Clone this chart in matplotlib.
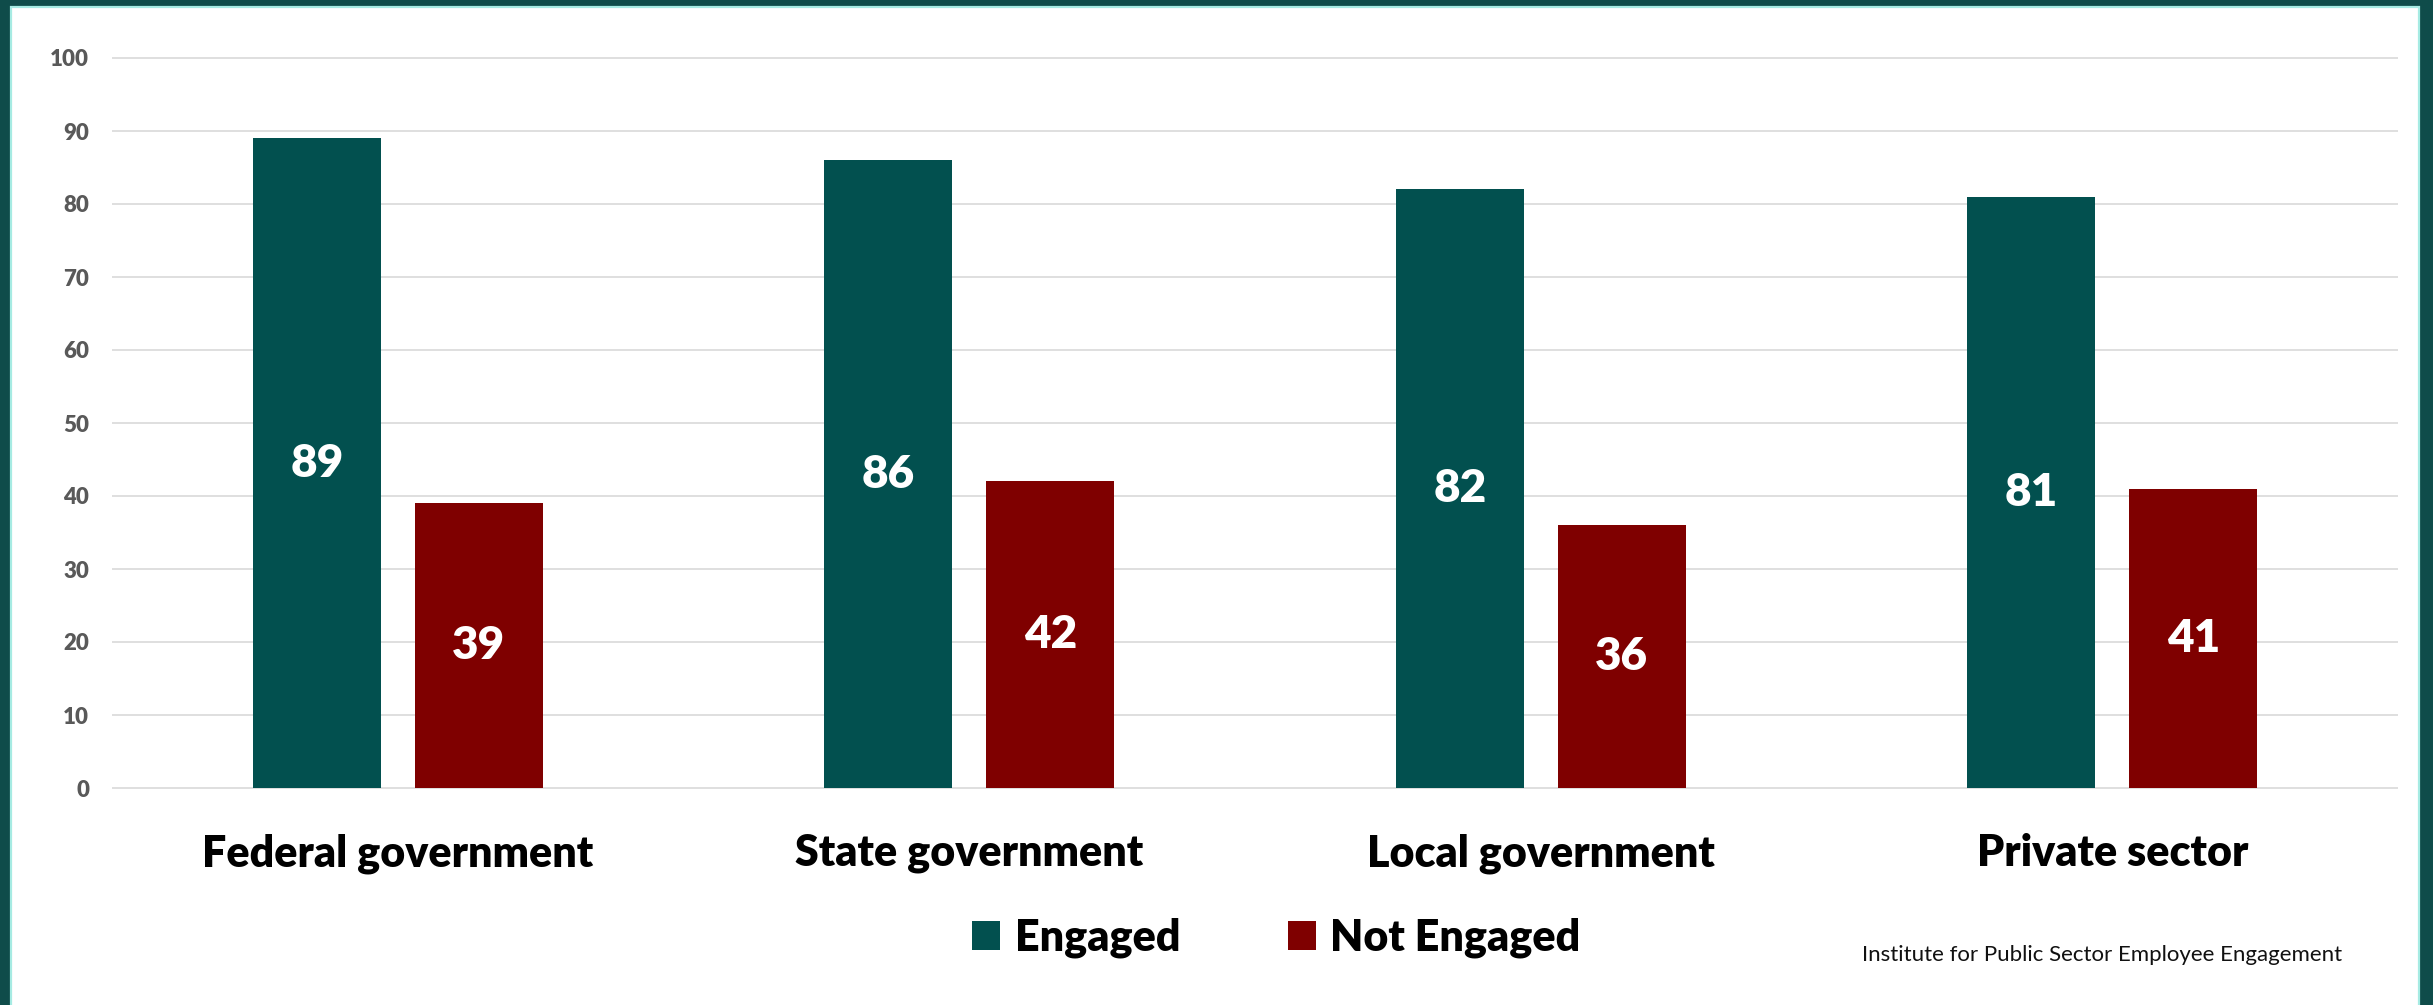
import matplotlib
matplotlib.use("Agg")
import matplotlib.pyplot as plt
from matplotlib.patches import Rectangle, Patch
import numpy as np

# Data
categories = ["Federal government", "State government", "Local government", "Private sector"]
engaged = [89, 86, 82, 81]
not_engaged = [39, 42, 36, 41]
series_names = ["Engaged", "Not Engaged"]
yticks = [0, 10, 20, 30, 40, 50, 60, 70, 80, 90, 100]
source = "Institute for Public Sector Employee Engagement"

teal = "#02504F"
maroon = "#7F0000"

plt.rcParams["font.family"] = ["Lato", "DejaVu Sans"]

W, H = 2433, 1005
fig = plt.figure(figsize=(W / 100, H / 100), dpi=100)
fig.patch.set_facecolor("#0f4c4a")

# white panel with light cyan edge
panel = Rectangle((11 / W, -0.01), (2419 - 11) / W, (H - 7) / H + 0.01,
                  transform=fig.transFigure, facecolor="white",
                  edgecolor="#a6ebe3", linewidth=1.6, zorder=0)
fig.add_artist(panel)

ax = fig.add_axes([112 / W, 217 / H, 2286 / W, 730 / H])
ax.set_facecolor("none")

x = np.arange(len(categories))
width = 0.224
off = 0.1417

b1 = ax.bar(x - off, engaged, width, color=teal, zorder=2, label=series_names[0])
b2 = ax.bar(x + off, not_engaged, width, color=maroon, zorder=2, label=series_names[1])

# value labels in the middle of bars
for bars in (b1, b2):
    for r in bars:
        h = r.get_height()
        ax.text(r.get_x() + r.get_width() / 2, h / 2, f"{h:g}", ha="center", va="center",
                color="white", fontsize=33, fontweight="heavy", zorder=3)

ax.set_xlim(-0.5, 3.5)
ax.set_ylim(0, 100)
ax.hlines(yticks, -0.5, 3.5, colors="#d9d9d9", linewidth=1.2, zorder=1, clip_on=False)

ax.set_yticks(yticks)
ax.set_yticklabels([str(t) for t in yticks], fontsize=16, fontweight="heavy", color="#595959")
ax.set_xticks(x)
ax.set_xticklabels(categories, fontsize=31, fontweight="heavy", color="black")
ax.tick_params(axis="y", length=0, pad=16.5)
ax.tick_params(axis="x", length=0, pad=32.5)
for s in ax.spines.values():
    s.set_visible(False)

handles = [Patch(facecolor=teal, label=series_names[0]),
           Patch(facecolor=maroon, label=series_names[1])]
leg = fig.legend(handles=handles, loc="center", bbox_to_anchor=(0.5246, 0.0667), ncol=2,
                 frameon=False, prop={"size": 31, "weight": "heavy"},
                 handlelength=0.65, handleheight=0.65, handletextpad=0.33,
                 columnspacing=2.5, borderpad=0)

fig.text(1862 / W, 50 / H, source, ha="left", va="center", fontsize=16, color="#111111")

fig.savefig("out.png", dpi=100, facecolor=fig.get_facecolor())
